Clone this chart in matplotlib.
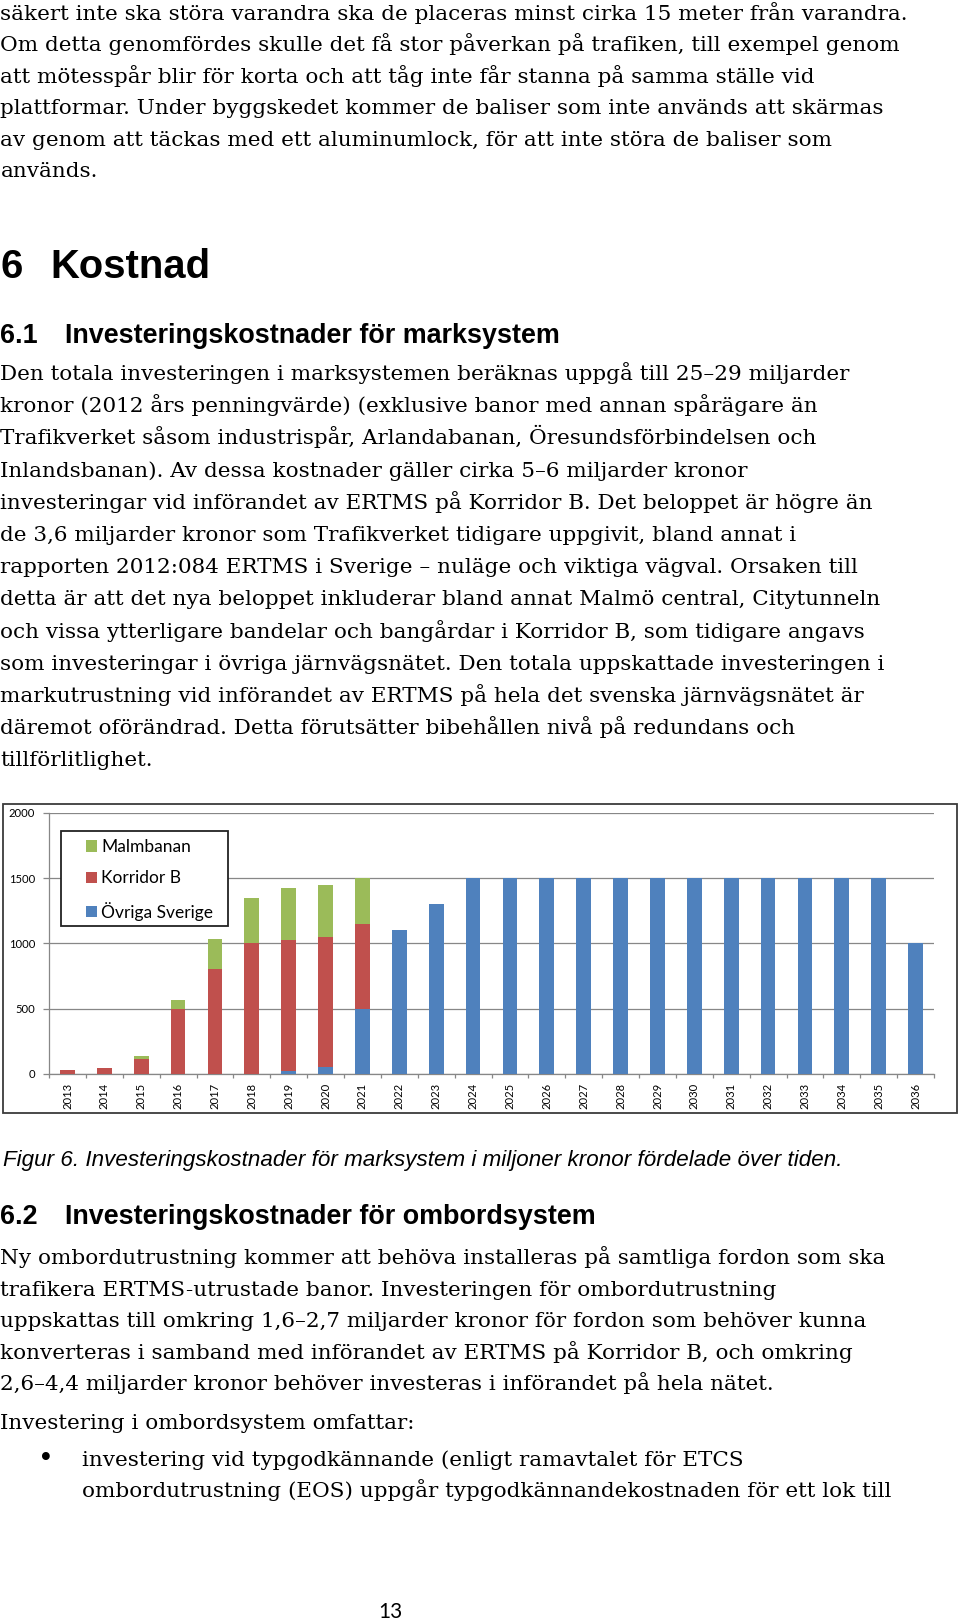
import matplotlib
matplotlib.use("Agg")
import matplotlib.pyplot as plt
import numpy as np
from matplotlib.patches import Rectangle

# chart data (miljoner kronor)
years = ["2013", "2014", "2015", "2016", "2017", "2018", "2019", "2020",
         "2021", "2022", "2023", "2024", "2025", "2026", "2027", "2028",
         "2029", "2030", "2031", "2032", "2033", "2034", "2035", "2036"]
ovriga = [0, 0, 0, 0, 0, 0, 25, 50, 500, 1100, 1300, 1500, 1500, 1500,
          1500, 1500, 1500, 1500, 1500, 1500, 1500, 1500, 1500, 1000]
korridor = [28, 43, 115, 500, 800, 1000, 1000, 1000, 650, 0, 0, 0, 0, 0,
            0, 0, 0, 0, 0, 0, 0, 0, 0, 0]
malmbanan = [0, 0, 25, 70, 230, 350, 395, 400, 350, 0, 0, 0, 0, 0,
             0, 0, 0, 0, 0, 0, 0, 0, 0, 0]
y_ticks = [0, 500, 1000, 1500, 2000]

# page text
para_top = [
    "säkert inte ska störa varandra ska de placeras minst cirka 15 meter från varandra.",
    "Om detta genomfördes skulle det få stor påverkan på trafiken, till exempel genom",
    "att mötesspår blir för korta och att tåg inte får stanna på samma ställe vid",
    "plattformar. Under byggskedet kommer de baliser som inte används att skärmas",
    "av genom att täckas med ett aluminumlock, för att inte störa de baliser som",
    "används.",
]
para_61 = [
    "Den totala investeringen i marksystemen beräknas uppgå till 25–29 miljarder",
    "kronor (2012 års penningvärde) (exklusive banor med annan spårägare än",
    "Trafikverket såsom industrispår, Arlandabanan, Öresundsförbindelsen och",
    "Inlandsbanan). Av dessa kostnader gäller cirka 5–6 miljarder kronor",
    "investeringar vid införandet av ERTMS på Korridor B. Det beloppet är högre än",
    "de 3,6 miljarder kronor som Trafikverket tidigare uppgivit, bland annat i",
    "rapporten 2012:084 ERTMS i Sverige – nuläge och viktiga vägval. Orsaken till",
    "detta är att det nya beloppet inkluderar bland annat Malmö central, Citytunneln",
    "och vissa ytterligare bandelar och bangårdar i Korridor B, som tidigare angavs",
    "som investeringar i övriga järnvägsnätet. Den totala uppskattade investeringen i",
    "markutrustning vid införandet av ERTMS på hela det svenska järnvägsnätet är",
    "däremot oförändrad. Detta förutsätter bibehållen nivå på redundans och",
    "tillförlitlighet.",
]
para_62 = [
    "Ny ombordutrustning kommer att behöva installeras på samtliga fordon som ska",
    "trafikera ERTMS-utrustade banor. Investeringen för ombordutrustning",
    "uppskattas till omkring 1,6–2,7 miljarder kronor för fordon som behöver kunna",
    "konverteras i samband med införandet av ERTMS på Korridor B, och omkring",
    "2,6–4,4 miljarder kronor behöver investeras i införandet på hela nätet.",
]
bullets = [
    "investering vid typgodkännande (enligt ramavtalet för ETCS",
    "ombordutrustning (EOS) uppgår typgodkännandekostnaden för ett lok till",
]
caption = "Figur 6. Investeringskostnader för marksystem i miljoner kronor fördelade över tiden."

W, H = 960, 1623
fig = plt.figure(figsize=(W / 100, H / 100), dpi=100)
fig.patch.set_facecolor("white")
renderer = fig.canvas.get_renderer()

SERIF = "DejaVu Serif"
SANS = "Liberation Sans"
CHART = "Lato"


def fx(x):
    return x / W


def fy(y):
    return 1 - y / H


def fit_size(s, width_px, **kw):
    # font size that makes s about width_px wide
    t = fig.text(0, 0, s, fontsize=20, **kw)
    w = t.get_window_extent(renderer=renderer).width
    t.remove()
    return 20 * width_px / w


def put(x, y, s, size, **kw):
    fig.text(fx(x), fy(y), s, fontsize=size, va="baseline", ha=kw.pop("ha", "left"), **kw)


body_size = fit_size(para_61[0], 845, family=SERIF)

# top paragraph
for i, line in enumerate(para_top):
    put(0.5, 20 + i * 31.4, line, body_size, family=SERIF)

# headings
h1 = fit_size("Kostnad", 160, family=SANS, weight="bold")
put(0, 278, "6", h1, family=SANS, weight="bold")
put(50, 278, "Kostnad", h1, family=SANS, weight="bold")

h2 = fit_size("Investeringskostnader för marksystem", 494, family=SANS, weight="bold")
put(0, 343, "6.1", h2, family=SANS, weight="bold")
put(65, 343, "Investeringskostnader för marksystem", h2, family=SANS, weight="bold")

for i, line in enumerate(para_61):
    put(0.5, 380 + i * 32.2, line, body_size, family=SERIF)

# chart
blue, red, green = "#4F81BD", "#C0504D", "#9BBB59"
ax = fig.add_axes([fx(49), fy(1074), (934 - 49) / W, (1074 - 812.7) / H])
x = np.arange(len(years))
ov = np.array(ovriga)
ko = np.array(korridor)
ma = np.array(malmbanan)
b_ov = ax.bar(x, ov, width=0.4, color=blue, label="Övriga Sverige", zorder=3)
b_ko = ax.bar(x, ko, width=0.4, bottom=ov, color=red, label="Korridor B", zorder=3)
b_ma = ax.bar(x, ma, width=0.4, bottom=ov + ko, color=green, label="Malmbanan", zorder=3)

ax.set_xlim(-0.5, len(years) - 0.5)
ax.set_ylim(0, 2000)
ax.set_yticks(y_ticks)
grey = "#878787"
ax.yaxis.grid(True, color=grey, linewidth=0.9)
ax.set_axisbelow(True)
for side in ["top", "right"]:
    ax.spines[side].set_visible(False)
for side in ["left", "bottom"]:
    ax.spines[side].set_color(grey)
    ax.spines[side].set_linewidth(0.9)

tick_size = fit_size("2000", 26, family=CHART)
ax.set_xticks(x)
ax.set_xticklabels(years, rotation=90, fontsize=tick_size, family=CHART)
ax.set_xticks(np.arange(-0.5, len(years), 1), minor=True)
ax.tick_params(axis="x", which="major", length=0, pad=6.3)
ax.tick_params(axis="x", which="minor", length=2.6, color=grey, width=0.9)
ax.tick_params(axis="y", length=4.1, color=grey, width=0.9, pad=6, labelsize=tick_size)
for lab in ax.get_yticklabels():
    lab.set_family(CHART)

# legend: white box over the gridlines, entries on top
ax.add_patch(Rectangle((fx(61), fy(926)), (228 - 61) / W, (926 - 831) / H,
                       transform=fig.transFigure, facecolor="white", ec="#222222",
                       lw=1.3, zorder=4, clip_on=False))
leg_size = fit_size("Malmbanan", 90, family=CHART)
f_px = leg_size * 100 / 72
leg = ax.legend(handles=[b_ma, b_ko, b_ov], loc="upper left",
                bbox_to_anchor=(fx(86), fy(839)), bbox_transform=fig.transFigure,
                frameon=False, borderpad=0, borderaxespad=0,
                handlelength=11 / f_px, handleheight=11 / f_px,
                handletextpad=4 / f_px, labelspacing=0.88,
                prop={"family": CHART, "size": leg_size})
leg.set_zorder(5)

# outer chart frame
fig.add_artist(Rectangle((fx(3), fy(1113)), (957 - 3) / W, (1113 - 804) / H,
                         transform=fig.transFigure, fill=False, ec="#3a3a3a", lw=1.3))

# caption and section 6.2
cap_size = fit_size(caption, 834, family=SANS, style="italic")
put(3, 1166, caption, cap_size, family=SANS, style="italic")

put(0, 1224, "6.2", h2, family=SANS, weight="bold")
put(65, 1224, "Investeringskostnader för ombordsystem", h2, family=SANS, weight="bold")

for i, line in enumerate(para_62):
    put(0.5, 1264 + i * 31.6, line, body_size, family=SERIF)

put(0.5, 1429, "Investering i ombordsystem omfattar:", body_size, family=SERIF)
put(46, 1467, "•", body_size * 1.25, family=SERIF, ha="center")
for i, line in enumerate(bullets):
    put(81.8, 1466 + i * 31, line, body_size, family=SERIF)

# page number
pn_size = fit_size("13", 24, family=CHART)
put(390, 1618, "13", pn_size, family=CHART, ha="center")

fig.savefig("out.png", dpi=100)
